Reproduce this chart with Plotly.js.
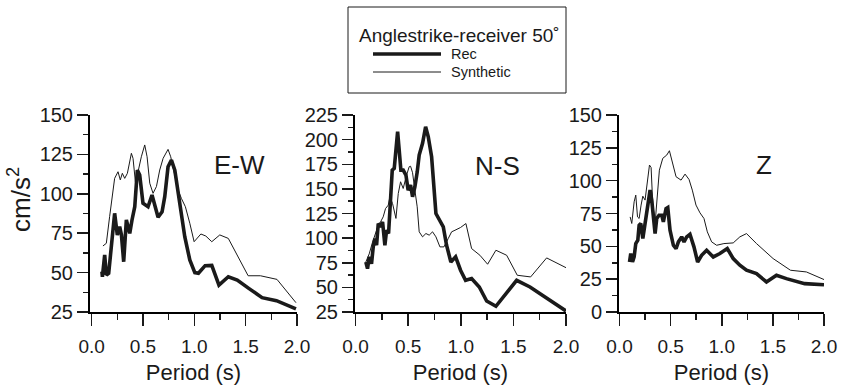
<!DOCTYPE html>
<html>
<head>
<meta charset="utf-8">
<script src="https://cdn.plot.ly/plotly-3.0.1.min.js"></script>
<style>html,body{margin:0;padding:0;background:#fff;}#chart{width:842px;height:385px;}</style>
</head>
<body>
<div id="chart"></div>
<script>
// ---- Data ----
const panelNames = ["E-W", "N-S", "Z"];
const legendTitle = "Anglestrike-receiver 50˚";
const seriesNames = ["Rec", "Synthetic"];
const xTitle = "Period (s)";
const yTitle = "cm/s<sup>2</sup>";

// E-W
const ewRecT = [0.10,0.105,0.127,0.143,0.166,0.191,0.224,0.25,0.273,0.29,0.312,0.338,0.371,0.393,0.42,0.445,0.468,0.5,0.549,0.588,0.615,0.647,0.686,0.712,0.744,0.777,0.81,0.859,0.907,0.956,1.005,1.04,1.105,1.17,1.24,1.331,1.418,1.53,1.66,1.80,1.99];
const ewRecV = [50.6,47.4,61.2,48.5,49.6,64.3,87.6,73.9,79.1,74,56.9,83.4,74.9,83.4,91.8,115,111.9,94,91.8,99.2,91.8,85.1,88.6,98.2,117.2,121.4,115,94,72.8,58,50,49.6,54.4,54.6,42.1,47.4,45.3,40,34.1,32.2,27];
const ewSynT = [0.11,0.143,0.175,0.208,0.224,0.257,0.279,0.299,0.322,0.348,0.387,0.403,0.426,0.452,0.484,0.517,0.54,0.566,0.598,0.631,0.663,0.696,0.744,0.77,0.803,0.842,0.874,0.913,0.956,0.998,1.064,1.112,1.17,1.248,1.331,1.524,1.644,1.805,1.99];
const ewSynV = [66.9,68.6,85.5,100.3,109.8,114,108.8,113,109.8,113,125.7,122.5,107.7,114,123.5,131,123.5,106.7,100.3,104.6,115.1,122.5,128.2,123.5,114,102.4,97.1,91.8,81.3,69.6,74.5,73.2,69.6,73.9,71.7,48,48,45.7,30.9];

// N-S
const nsRecT = [0.098,0.114,0.13,0.152,0.168,0.184,0.2,0.216,0.238,0.257,0.279,0.295,0.314,0.333,0.349,0.368,0.384,0.4,0.415,0.431,0.453,0.479,0.5,0.523,0.542,0.564,0.586,0.605,0.637,0.666,0.691,0.723,0.764,0.802,0.834,0.865,0.906,0.951,0.998,1.046,1.103,1.176,1.246,1.334,1.531,1.658,2.0];
const nsRecV = [75.8,69,81,74,91,99.6,92.8,114.8,111.4,116.5,92.8,108,104.7,138.6,169,170.8,189.4,208,189.4,169,169,164,148.7,153.8,142,152,167,184.3,196.2,213,203,182.6,125,116.5,111.4,92.8,75.8,81,67.4,57.2,58.9,50.4,36.2,30.8,57.2,50.4,26];
const nsSynT = [0.098,0.13,0.162,0.193,0.216,0.238,0.263,0.285,0.311,0.327,0.352,0.384,0.406,0.428,0.453,0.485,0.51,0.523,0.542,0.564,0.586,0.605,0.637,0.669,0.7,0.732,0.764,0.802,0.84,0.881,0.913,0.945,0.998,1.049,1.103,1.182,1.255,1.334,1.436,1.537,1.664,1.816,2.0];
const nsSynV = [75.8,84,96,106,113,116.5,121.6,130,133.5,142,135,120,145.3,157.2,150.4,164,172.5,173,166.4,148.7,131.8,106.4,101.3,104.7,103,106.4,101.3,91.1,91.1,99.6,106.4,108,110.8,114.8,89.4,82.6,73.5,87.7,82.6,62.3,60.6,79.9,70];

// Z
const zRecT = [0.098,0.11,0.127,0.143,0.159,0.179,0.192,0.208,0.228,0.25,0.267,0.283,0.299,0.315,0.332,0.348,0.364,0.387,0.413,0.429,0.455,0.472,0.494,0.527,0.553,0.576,0.608,0.631,0.657,0.689,0.728,0.764,0.803,0.852,0.917,0.982,1.054,1.112,1.177,1.242,1.34,1.437,1.535,1.632,1.811,2.0];
const zRecV = [38.1,44.5,38.1,41.9,52.1,54.7,66,67.4,55.9,67.4,75,85.2,92.8,85.2,68.6,59.7,71.2,73.7,73.7,68.6,78.8,79.6,62.3,50.8,48.3,53.4,57.2,53.4,57.2,59.2,49.6,38.1,43.2,47,41.9,44.5,48.3,40.7,35.6,31.8,29.2,22.9,28,25.4,21.6,20.8];
const zSynT = [0.104,0.12,0.143,0.159,0.176,0.192,0.211,0.228,0.25,0.273,0.293,0.309,0.325,0.348,0.371,0.39,0.423,0.462,0.488,0.52,0.553,0.602,0.641,0.68,0.712,0.748,0.787,0.826,0.859,0.901,0.95,1.021,1.112,1.177,1.242,1.34,1.502,1.672,1.828,2.0];
const zSynV = [72.4,67.4,83.9,89,72.4,71.2,81.4,88.2,85.2,100.4,111.9,110,82.6,67.4,92.8,108,117,119.5,122.8,111.9,103,100.4,105,100.9,92.8,81.4,75.5,71.2,61,53.4,50.8,52.1,52.6,57.2,59.7,52.1,40.7,31.8,30.5,24.7];

const yRanges = [[25,150],[25,225],[0,150]];
const xTickVals = [0,0.5,1.0,1.5,2.0];

// ---- Layout geometry ----
const W = 842, H = 385;
const xDomPx = [[90,297],[355,566],[619,824]];
const yDomPx = [115,312];
const xRanges = [[-0.016,2.0],[-0.005,2.0],[-0.005,2.0]];
const FONT = "Liberation Sans, Arial, Helvetica, sans-serif";
const INK = "#1a1a1a";

const recT = [ewRecT, nsRecT, zRecT], recV = [ewRecV, nsRecV, zRecV];
const synT = [ewSynT, nsSynT, zSynT], synV = [ewSynV, nsSynV, zSynV];

const traces = [];
for (let i = 0; i < 3; i++) {
  const xa = i === 0 ? "x" : "x" + (i + 1);
  const ya = i === 0 ? "y" : "y" + (i + 1);
  traces.push({x: synT[i], y: synV[i], xaxis: xa, yaxis: ya, type: "scatter", mode: "lines",
    name: seriesNames[1], showlegend: false, line: {color: INK, width: 1}});
  traces.push({x: recT[i], y: recV[i], xaxis: xa, yaxis: ya, type: "scatter", mode: "lines",
    name: seriesNames[0], showlegend: false, line: {color: INK, width: 3.6}});
}

const layout = {
  width: W, height: H,
  margin: {l: 0, r: 0, t: 0, b: 0},
  paper_bgcolor: "#fff", plot_bgcolor: "#fff",
  font: {family: FONT, color: INK},
  showlegend: false,
  shapes: [], annotations: []
};

for (let i = 0; i < 3; i++) {
  const sx = i === 0 ? "" : String(i + 1);
  layout["xaxis" + sx] = {
    domain: [xDomPx[i][0] / W, xDomPx[i][1] / W],
    range: xRanges[i],
    anchor: "y" + sx,
    showgrid: false, zeroline: false,
    showline: true, linecolor: "#000000", linewidth: 2,
    ticks: "outside", ticklen: 12, tickwidth: 1.5, tickcolor: INK,
    tickvals: xTickVals, tickformat: ".1f", ticklabelstandoff: 4,
    tickfont: {size: 19, family: FONT, color: INK},
    minor: {dtick: 0.25, tick0: 0, ticks: "outside", ticklen: 6, tickwidth: 1.5, tickcolor: INK, showgrid: false},
    title: {text: xTitle, font: {size: 22, family: FONT, color: INK}, standoff: 12},
    fixedrange: true
  };
  layout["yaxis" + sx] = {
    domain: [1 - yDomPx[1] / H, 1 - yDomPx[0] / H],
    range: yRanges[i],
    anchor: "x" + sx,
    showgrid: false, zeroline: false,
    showline: true, linecolor: "#000000", linewidth: 2,
    ticks: "outside", ticklen: 11, tickwidth: 1.5, tickcolor: INK,
    dtick: 25, tick0: 0,
    tickfont: {size: 20, family: FONT, color: INK},
    minor: {dtick: 12.5, tick0: 0, ticks: "outside", ticklen: 5, tickwidth: 1.5, tickcolor: INK, showgrid: false},
    fixedrange: true
  };
}

// panel labels
const panelPos = [[239,165],[497,166],[764,165]];
panelNames.forEach((t, i) => {
  layout.annotations.push({text: t, xref: "paper", yref: "paper", x: panelPos[i][0] / W, y: 1 - panelPos[i][1] / H,
    xanchor: "center", yanchor: "middle", showarrow: false, font: {size: 26, family: FONT, color: INK}});
});

// y-axis title (first panel only)
layout.annotations.push({text: yTitle, xref: "paper", yref: "paper", x: 20 / W, y: 1 - 200 / H, textangle: -90,
  xanchor: "center", yanchor: "middle", showarrow: false, font: {size: 26, family: FONT, color: INK}});

// legend box
layout.shapes.push({type: "rect", xref: "paper", yref: "paper", x0: 348 / W, x1: 566 / W, y0: 1 - 93 / H, y1: 1 - 7 / H,
  line: {color: INK, width: 1}, fillcolor: "rgba(0,0,0,0)"});
layout.shapes.push({type: "line", xref: "paper", yref: "paper", x0: 373 / W, x1: 441 / W, y0: 1 - 54 / H, y1: 1 - 54 / H,
  line: {color: INK, width: 3.6}});
layout.shapes.push({type: "line", xref: "paper", yref: "paper", x0: 373 / W, x1: 441 / W, y0: 1 - 72 / H, y1: 1 - 72 / H,
  line: {color: INK, width: 1}});
layout.annotations.push({text: legendTitle, xref: "paper", yref: "paper", x: 459 / W, y: 1 - 35 / H,
  xanchor: "center", yanchor: "middle", showarrow: false, font: {size: 19, family: FONT, color: INK}});
layout.annotations.push({text: seriesNames[0], xref: "paper", yref: "paper", x: 449 / W, y: 1 - 54 / H,
  xanchor: "left", yanchor: "middle", showarrow: false, font: {size: 14.5, family: FONT, color: INK}});
layout.annotations.push({text: seriesNames[1], xref: "paper", yref: "paper", x: 449 / W, y: 1 - 72 / H,
  xanchor: "left", yanchor: "middle", showarrow: false, font: {size: 14.5, family: FONT, color: INK}});

Plotly.newPlot("chart", traces, layout, {displayModeBar: false, staticPlot: true});
</script>
</body>
</html>
